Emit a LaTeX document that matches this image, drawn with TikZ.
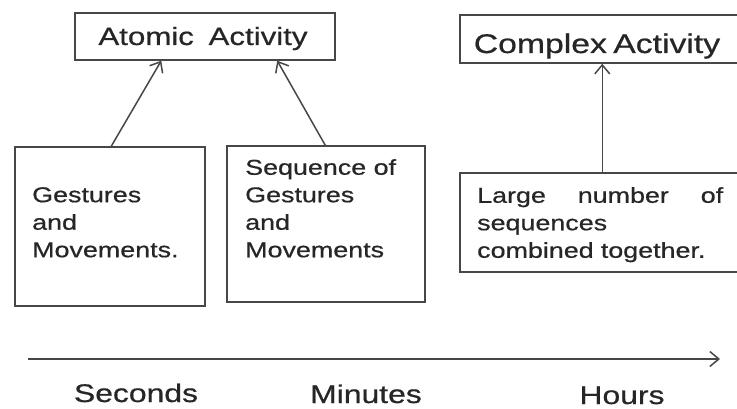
\documentclass[tikz,border=0pt]{standalone}
\usepackage{fontspec}
\setmainfont{Liberation Sans}[FakeStretch=1.25,FakeBold=0.6]
\usetikzlibrary{arrows.meta,calc}
\begin{document}
\begin{tikzpicture}[x=1pt,y=-1pt,
  box/.style={draw=black!72,line width=1.5pt,inner sep=0pt,rectangle},
  txt/.style={inner sep=0pt,align=left,font=\fontsize{21.5}{27.5}\selectfont,text=black!85},
  ttl/.style={inner sep=0pt,font=\fontsize{25}{30}\selectfont,text=black!85},
  axl/.style={inner sep=0pt,font=\fontsize{25.5}{30}\selectfont,text=black!85,anchor=base},
  arr/.style={draw=black!72,line width=1.5pt,-{Straight Barb[length=9pt,width=15pt,line width=1.5pt]}}]
\useasboundingbox (0,0) rectangle (737,409);
% boxes
\node[box,minimum width=260pt,minimum height=47pt] (a) at (205,36.5) {};
\node[box,minimum width=190pt,minimum height=159pt] (g) at (110,226.5) {};
\node[box,minimum width=198pt,minimum height=156pt] (s) at (326,224) {};
\node[box,minimum width=285pt,minimum height=48pt] (c) at (602.5,39) {};
\node[box,minimum width=285pt,minimum height=99pt] (l) at (602.5,222.5) {};
% texts
\node[ttl,anchor=base] (at) at (203,45) {Atomic\hspace{6pt} Activity};
\node[ttl,anchor=base,font=\fontsize{27}{30}\selectfont] (ct) at (597,53) {Complex\hspace{-3pt} Activity};
\node[txt,anchor=north west] (gt) at (32,187) {Gestures\\and\\Movements.};
\node[txt,anchor=north west] (st) at (245,159) {Sequence of\\Gestures\\and\\Movements};
\node[txt,anchor=north west,text width=246pt] (lt) at (477,187) {Large\hfill number\hfill of\\sequences\\combined together.};
% connectors
\draw[arr] ($(g.north west)+(97,0)$) -- ($(a.south west)+(87,0)$);
\draw[arr] ($(s.north west)+(99,0)$) -- ($(a.south west)+(203,0)$);
\draw[arr] ($(l.north west)+(143,0)$) -- ($(c.south west)+(143,0)$);
% time axis
\coordinate (t0) at (28,359);
\coordinate (t1) at (720,359);
\draw[arr] (t0) -- (t1);
\node[axl] (sec) at (136,402) {Seconds};
\node[axl] (min) at (366,403) {Minutes};
\node[axl] (hrs) at (622,404) {Hours};
\end{tikzpicture}
\end{document}
